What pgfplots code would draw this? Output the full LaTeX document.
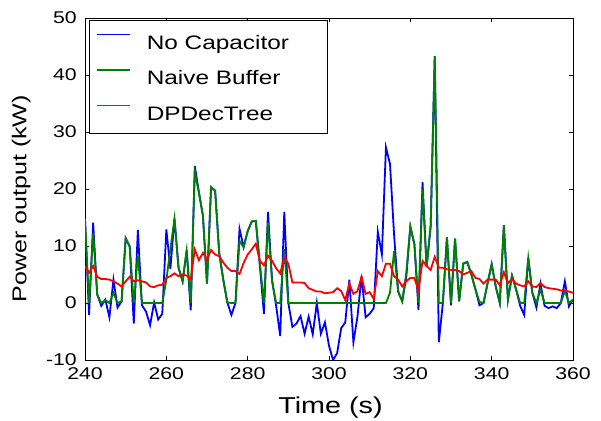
\documentclass[border=0pt]{standalone}
\usepackage{fontspec}
\setmainfont{Liberation Sans}[FakeStretch=1.25]
\newfontfamily\wf{Liberation Sans}[FakeStretch=1.25]
\newcommand\legfont{\wf\fontsize{19.5}{23}\selectfont}
\usepackage{pgfplots}
\usepackage{pgfplotstable}
\pgfplotsset{compat=1.18}
\pgfplotstableread{
t b g r
240 14.7 14.7 6.5
241 -2.1 0 5.3
242 14.1 12.2 6.5
243 1.5 1.5 4.6
244 -0.5 0 4.2
245 0.6 0.5 4.2
246 -2.5 0 4.1
247 4.1 1.8 3.8
248 -0.8 0 3.4
249 0.3 0.3 2.9
250 11.3 11.4 3.8
251 9.9 9.9 4.6
252 -3.6 0 3.8
253 12.8 8.3 4.0
254 -0.4 0 3.8
255 -1.5 0 3.6
256 -3.9 0 2.9
257 0.1 0 2.8
258 -2.9 0 3.1
259 -1.9 0 3.2
260 12.9 4.0 4.4
261 6.0 9.5 4.7
262 14.8 14.8 5.2
263 6.2 6.2 4.7
264 3.8 3.8 5.0
265 9.2 9.2 4.8
266 -1.3 0 4.1
267 24.0 22.9 9.4
268 19.5 19.4 7.5
269 15.3 15.3 8.8
270 3.4 3.4 7.5
271 20.3 20.3 9.3
272 19.7 19.7 8.5
273 8.8 8.8 8.2
274 4.1 4.1 7.1
275 0.1 0.1 6.2
276 -2.1 0 5.6
277 0 0 5.6
278 13.0 10.9 5.1
279 9.8 9.8 7.0
280 12.6 12.6 8.5
281 14.3 14.3 9.4
282 14.4 14.4 10.4
283 6.5 7.0 7.4
284 -1.9 0 6.6
285 16.0 14.1 8.3
286 4.0 3.8 7.4
287 -0.5 0 6.1
288 -5.8 0 5.2
289 16.0 9.5 8.0
290 0 0 6.9
291 -4.2 0 3.6
292 -3.6 0 3.6
293 -2.3 0 3.6
294 -5.4 0 3.5
295 -2.4 0 2.6
296 -5.5 0 2.3
297 0 0 2.0
298 -5.4 0 2.0
299 -3.4 0 1.7
300 -7.5 0 1.8
301 -10.0 0 1.9
302 -8.8 0 2.6
303 -4.4 0 2.1
304 -3.4 0 0.5
305 4.1 0 3.4
306 -6.9 0 1.6
307 -2.4 0 2.1
308 4.7 0 4.6
309 -2.5 0 1.6
310 -1.9 0 1.9
311 -0.9 0 0.7
312 12.5 0 5.6
313 8.5 0 4.7
314 27.3 0 6.9
315 24.4 1.8 6.9
316 12.0 9.1 4.7
317 2.0 2.1 4.1
318 0.3 0.3 2.9
319 4.5 5.3 3.8
320 13.4 13.4 4.4
321 10.3 10.3 4.4
322 -1.2 0 2.1
323 21.2 20.0 7.4
324 6.3 6.3 6.5
325 13.5 13.5 5.8
326 43.3 43.3 8.1
327 -6.9 0 6.2
328 0 0 6.2
329 11.5 11.5 5.9
330 -0.4 0 5.8
331 11.3 11.3 5.8
332 0.3 0.3 5.6
333 6.9 6.9 5.0
334 7.2 7.2 5.3
335 5.0 5.0 5.6
336 2.4 2.4 4.4
337 -0.4 0.2 4.2
338 0 0 3.4
339 3.5 3.5 4.1
340 6.8 6.8 4.1
341 2.9 2.9 4.1
342 0 0 3.1
343 13.6 13.6 5.4
344 0.6 0.6 3.5
345 4.8 4.8 4.2
346 2.4 2.4 3.4
347 -0.5 0 3.1
348 -2.1 0 2.9
349 7.9 7.9 3.8
350 1.8 1.8 2.9
351 -0.8 0 2.8
352 3.4 2.4 3.5
353 -0.5 0 2.8
354 -0.9 0 2.6
355 -0.6 0 2.5
356 -0.9 0 2.4
357 0 0 2.2
358 3.8 2.1 2.2
359 -0.6 0 2.0
360 0.6 0.6 1.8
}\datatable
\definecolor{mplgreen}{rgb}{0,0.5,0}
\begin{document}
\begin{tikzpicture}
\begin{axis}[
  scale only axis,
  width=488pt, height=342pt,
  xmin=240, xmax=360, ymin=-10, ymax=50,
  xtick={240,260,...,360},
  ytick={-10,0,...,50},
  /pgf/number format/assume math mode=true,
  tick align=inside,
  major tick length=4pt,
  tick style={black, line width=0.6pt},
  axis line style={line width=0.9pt},
  ticklabel style={font=\fontsize{17}{20}\selectfont},
  xticklabel style={inner sep=0pt, anchor=north, yshift=-7pt},
  yticklabel style={inner sep=0pt, anchor=east, xshift=-8pt},
  xlabel={Time (s)},
  ylabel={Power output (kW)},
  xlabel style={font=\fontsize{23}{27}\selectfont, at={(axis description cs:0.503,0)}, anchor=north, inner sep=0pt, yshift=-37pt},
  ylabel style={font=\fontsize{20}{24}\selectfont, at={(axis description cs:-0.111,0.472)}, anchor=south, rotate=0, inner sep=0pt},
  legend cell align=left,
  legend style={at={(axis description cs:0.008,0.994)}, anchor=north west,
    draw=black, line width=0.9pt, inner xsep=7pt, inner ysep=11pt,
    row sep=15.5pt, column sep=16pt,
    nodes={inner sep=0pt, text height=18pt, text depth=2pt}},
  legend image code/.code={\draw[#1, line width=1.4pt] (0pt,7pt) -- (33pt,7pt);},
]
\addplot[blue, line width=1.8pt] table[x=t, y=b] {\datatable};
\addlegendentry{\legfont\makebox[174pt][l]{No Capacitor}}
\addplot[mplgreen, line width=1.8pt] table[x=t, y=g] {\datatable};
\addlegendentry{\legfont Naive Buffer}
\addplot[red, line width=1.8pt] table[x=t, y=r] {\datatable};
\addlegendentry{\legfont DPDecTree}
\end{axis}
\pgfresetboundingbox
\path[use as bounding box] ([shift={(-85pt,-61pt)}]current axis.south west) rectangle ([shift={(28pt,18pt)}]current axis.north east);
\end{tikzpicture}
\end{document}
